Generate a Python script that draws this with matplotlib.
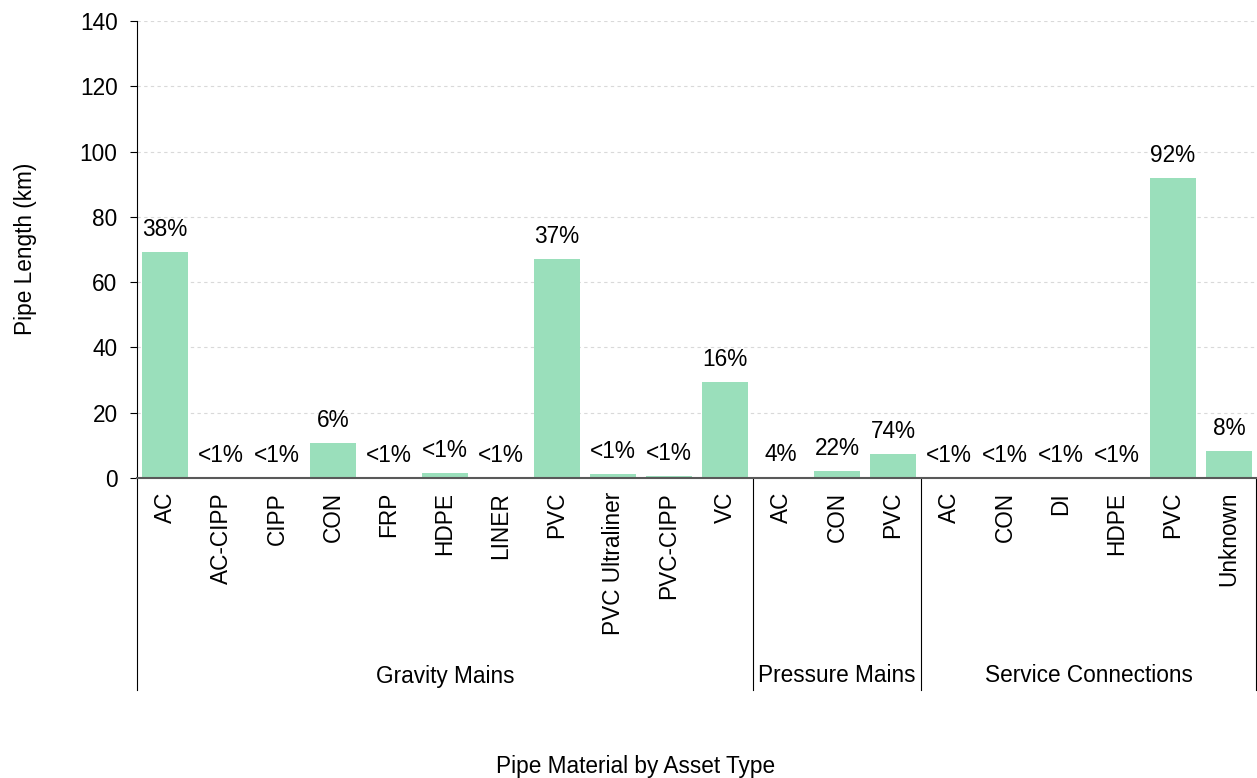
import matplotlib
matplotlib.use('Agg')
from matplotlib import pyplot as plt
import matplotlib.transforms as mtransforms

plt.rcParams['font.family'] = ['Liberation Sans', 'DejaVu Sans']

groups = ['Gravity Mains', 'Pressure Mains', 'Service Connections']
gravity_materials = ['AC', 'AC-CIPP', 'CIPP', 'CON', 'FRP', 'HDPE', 'LINER', 'PVC',
                     'PVC Ultraliner', 'PVC-CIPP', 'VC']
gravity_km = [69.2, 0.1, 0.05, 10.6, 0.1, 1.6, 0.1, 67.1, 1.1, 0.7, 29.4]
gravity_pct = ['38%', '<1%', '<1%', '6%', '<1%', '<1%', '<1%', '37%', '<1%', '<1%', '16%']
pressure_materials = ['AC', 'CON', 'PVC']
pressure_km = [0.4, 2.2, 7.4]
pressure_pct = ['4%', '22%', '74%']
service_materials = ['AC', 'CON', 'DI', 'HDPE', 'PVC', 'Unknown']
service_km = [0.05, 0.05, 0.05, 0.05, 91.8, 8.2]
service_pct = ['<1%', '<1%', '<1%', '<1%', '92%', '8%']

materials = gravity_materials + pressure_materials + service_materials
km = gravity_km + pressure_km + service_km
pct = gravity_pct + pressure_pct + service_pct
group_sizes = [len(gravity_materials), len(pressure_materials), len(service_materials)]

fs = 16.3
fig = plt.figure(figsize=(12.57, 7.78), dpi=100)
ax = fig.add_axes([137/1257, 1-478/778, 1120/1257, (478-21)/778])

x = list(range(len(materials)))
ax.bar(x, km, width=0.83, color='#9ADFBB', zorder=2)
for xi, v, p in zip(x, km, pct):
    ax.annotate(p, (xi, v), xytext=(0, 11.5), textcoords='offset points',
                ha='center', va='baseline', fontsize=fs)

ax.set_xlim(-0.5, len(materials) - 0.5)
ax.set_ylim(0, 140)
ax.set_yticks(range(0, 141, 20))
ax.tick_params(axis='y', labelsize=fs, length=5, pad=9, direction='out')
ax.set_xticks(x)
ax.set_xticklabels(materials, rotation=90, fontsize=fs, va='top')
ax.tick_params(axis='x', length=0, pad=10)
ax.grid(axis='y', color='#d9d9d9', linestyle=(0, (3, 3)), linewidth=0.8, zorder=0)

for s in ['top', 'right']:
    ax.spines[s].set_visible(False)
ax.spines['bottom'].set_color('#595959')
ax.spines['bottom'].set_linewidth(1.5)
ax.spines['left'].set_color('black')

# group separators and labels under the axis
trans = mtransforms.blended_transform_factory(ax.transData, ax.transAxes)
y_bottom = (478 - 690) / 457
edges = [-0.5]
for n in group_sizes:
    edges.append(edges[-1] + n)
edges[-1] -= 0.01
for e in edges:
    ax.plot([e, e], [0, y_bottom], color='black', linewidth=0.8, transform=trans, clip_on=False)
for g, a, b in zip(groups, edges[:-1], edges[1:]):
    ax.text((a + b) / 2, (478 - 676) / 457, g, transform=trans, ha='center', va='center', fontsize=fs)

fig.text(26/1257, 1 - 249/778, 'Pipe Length (km)', rotation=90, ha='center', va='center', fontsize=fs)
fig.text(636/1257, 1 - 766/778, 'Pipe Material by Asset Type', ha='center', va='center', fontsize=fs)

fig.savefig('out.png', dpi=100)
